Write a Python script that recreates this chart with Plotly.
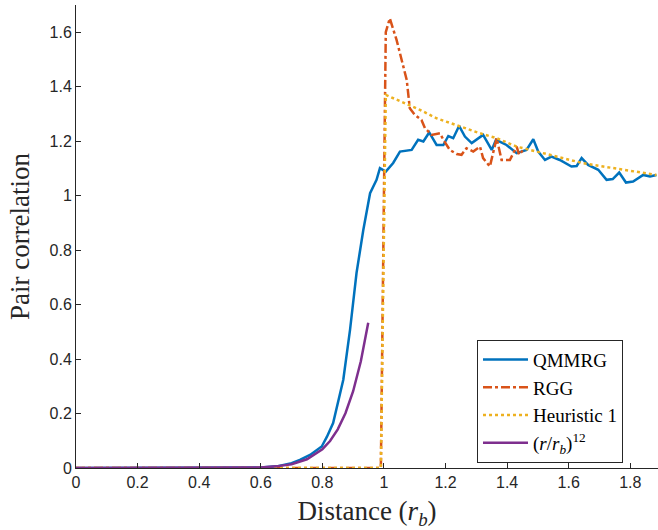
import plotly.graph_objects as go

# QMMRG
q_x = [0, 0.55, 0.6, 0.652, 0.7, 0.727, 0.76, 0.798, 0.815, 0.835, 0.868, 0.89, 0.911, 0.933, 0.955, 0.976, 0.987, 1.006,
       1.03, 1.052, 1.09, 1.111, 1.128, 1.147, 1.171, 1.193, 1.209, 1.225, 1.244, 1.263, 1.285, 1.322, 1.35, 1.364,
       1.398, 1.431, 1.463, 1.485, 1.501, 1.523, 1.544, 1.571, 1.609, 1.626, 1.642, 1.663, 1.696, 1.723, 1.743,
       1.764, 1.786, 1.809, 1.842, 1.864, 1.885]
q_y = [0, 0, 0.002, 0.006, 0.018, 0.030, 0.048, 0.079, 0.115, 0.165, 0.324, 0.508, 0.716, 0.874, 1.009, 1.058, 1.101, 1.088,
       1.12, 1.162, 1.168, 1.205, 1.199, 1.232, 1.186, 1.186, 1.219, 1.211, 1.256, 1.217, 1.193, 1.223, 1.168, 1.205,
       1.186, 1.156, 1.168, 1.207, 1.162, 1.131, 1.143, 1.131, 1.107, 1.109, 1.138, 1.113, 1.095, 1.058, 1.061,
       1.085, 1.048, 1.052, 1.076, 1.070, 1.076]

# RGG
g_x = [0, 0.99, 1.006, 1.019, 1.041, 1.063, 1.074, 1.084, 1.1, 1.122, 1.133, 1.155, 1.182, 1.193, 1.214, 1.236,
       1.252, 1.268, 1.290, 1.312, 1.322, 1.344, 1.366, 1.382, 1.409, 1.431, 1.439, 1.452]
g_y = [0, 0, 1.600, 1.651, 1.572, 1.474, 1.425, 1.321, 1.297, 1.278, 1.248, 1.223, 1.229, 1.205, 1.168, 1.153,
       1.150, 1.174, 1.162, 1.180, 1.138, 1.107, 1.211, 1.131, 1.131, 1.180, 1.150, 1.168]

# Heuristic 1
h_x = [0, 0.99, 1.006, 1.117, 1.171, 1.247, 1.312, 1.366, 1.431, 1.496, 1.561, 1.647, 1.712, 1.777, 1.820, 1.885]
h_y = [0, 0, 1.370, 1.315, 1.284, 1.254, 1.229, 1.211, 1.180, 1.162, 1.143, 1.119, 1.107, 1.095, 1.088, 1.076]

# (r/r_b)^12
p_x = [0, 0.5, 0.6, 0.65, 0.7, 0.75, 0.8, 0.825, 0.85, 0.875, 0.9, 0.925, 0.949]
p_y = [0, 0.0002, 0.002, 0.006, 0.014, 0.032, 0.069, 0.099, 0.142, 0.201, 0.282, 0.392, 0.533]

x_ticks = [0, 0.2, 0.4, 0.6, 0.8, 1, 1.2, 1.4, 1.6, 1.8]
x_labels = ["0", "0.2", "0.4", "0.6", "0.8", "1", "1.2", "1.4", "1.6", "1.8"]
y_ticks = [0, 0.2, 0.4, 0.6, 0.8, 1, 1.2, 1.4, 1.6]
y_labels = ["0", "0.2", "0.4", "0.6", "0.8", "1", "1.2", "1.4", "1.6"]

fig = go.Figure()
fig.add_trace(go.Scatter(x=q_x, y=q_y, mode="lines", name="QMMRG",
                         line=dict(color="#0072BD", width=2.5)))
fig.add_trace(go.Scatter(x=g_x, y=g_y, mode="lines", name="RGG",
                         line=dict(color="#D95319", width=2.5, dash="dashdot")))
fig.add_trace(go.Scatter(x=h_x, y=h_y, mode="lines", name="Heuristic 1",
                         line=dict(color="#EDB120", width=2.5, dash="dot")))
fig.add_trace(go.Scatter(x=p_x, y=p_y, mode="lines", name="(<i>r</i>/<i>r</i><sub><i>b</i></sub>)<sup>12</sup>",
                         line=dict(color="#7E2F8E", width=2.5)))

axis_common = dict(showgrid=False, zeroline=False, showline=True, linecolor="#262626", linewidth=1,
                   ticks="inside", ticklen=5, tickcolor="#262626", automargin=False,
                   tickfont=dict(family="Liberation Sans, Arial, sans-serif", size=16, color="#262626"))

fig.update_layout(
    width=658, height=530,
    margin=dict(l=76, r=0, t=5, b=62),
    plot_bgcolor="white", paper_bgcolor="white",
    xaxis=dict(range=[0, 1.89], tickvals=x_ticks, ticktext=x_labels,
               title=dict(text="Distance (<i>r</i><sub><i>b</i></sub>)",
                          font=dict(family="Liberation Serif, serif", size=27, color="#262626"), standoff=11),
               **axis_common),
    yaxis=dict(range=[0, 1.7], tickvals=y_ticks, ticktext=y_labels,
               title=dict(text="Pair correlation",
                          font=dict(family="Liberation Serif, serif", size=27, color="#262626"), standoff=12),
               **axis_common),
    legend=dict(x=0.689, y=0.277, xanchor="left", yanchor="top",
                bgcolor="white", bordercolor="#262626", borderwidth=1,
                font=dict(family="Liberation Serif, serif", size=19, color="#000000"),
                itemwidth=45, tracegroupgap=0),
    showlegend=True,
)

fig.write_html("out.html", config={"displayModeBar": False},
               post_script="document.body.style.margin='0';")
